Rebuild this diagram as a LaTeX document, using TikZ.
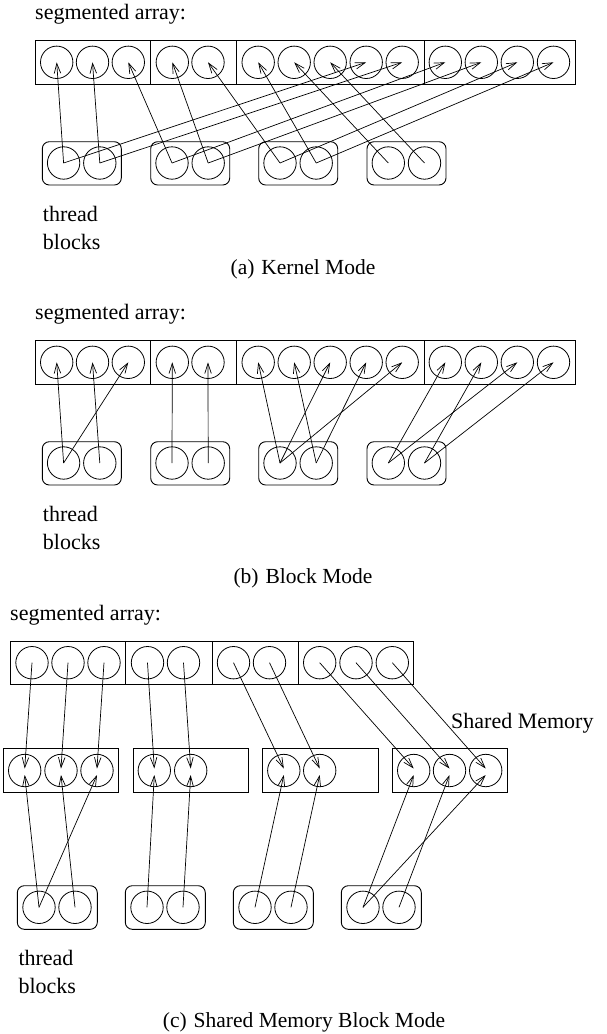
\documentclass[tikz,border=0pt]{standalone}
\usepackage{fontspec}
\setmainfont{Liberation Serif}
\usetikzlibrary{arrows.meta}
\begin{document}
\begin{tikzpicture}[x=1pt,y=-1pt,
  elem/.style={circle,draw,line width=0.8pt,minimum size=32.4pt,inner sep=0pt},
  arr/.style={line width=0.7pt,-{Straight Barb[length=10pt,width=6.5pt]}},
  abox/.style={draw,line width=0.9pt},
  tbox/.style={draw,line width=0.9pt,rounded corners=7pt},
  lbl/.style={font=\fontsize{22}{26}\selectfont,inner sep=0pt,anchor=base west},
  captxt/.style={font=\fontsize{21.5}{26}\selectfont,inner sep=0pt,anchor=base}]
\useasboundingbox (0,0) rectangle (606,1034);

% ---------- parts (a) and (b) ----------
\foreach \off/\p in {0/a,300/b}{
  \draw[abox] (35,40.7+\off) rectangle (575,84+\off);
  \foreach \d in {150.7,236.7,424}
    \draw[abox] (\d,40.7+\off) -- (\d,84+\off);
  \foreach \x [count=\i from 0] in {56.7,92.5,128.3,172.3,208,258.2,294.2,330.2,366.2,402.2,445.3,481.3,517.3,553.5}
    \node[elem] (\p e\i) at (\x,62.3+\off) {};
  \foreach \l in {42.3,150.7,258.7,367}
    \draw[tbox] (\l,141.7+\off) rectangle ++(79,43.3);
  \foreach \x [count=\i from 0] in {63.6,99.8,172,208.2,280,316.2,388.3,424.5}
    \node[elem] (\p t\i) at (\x,163+\off) {};
  \node[lbl] (\p sa) at (35,19.5+\off) {segmented array:};
  \node[lbl] (\p th) at (42.7,221+\off) {thread};
  \node[lbl] (\p bl) at (42.7,249.3+\off) {blocks};
}
\node[captxt] (capa) at (303,274.5) {(a)\hspace{0.32em}Kernel Mode};
\node[captxt] (capb) at (303,583.3) {(b)\hspace{0.32em}Block Mode};

% kernel mode: element i <- thread (i mod 8)
\foreach \i in {0,...,13}{
  \pgfmathtruncatemacro\t{mod(\i,8)}
  \draw[arr] (at\t.center) -- (ae\i.center);
}
% block mode
\foreach \t/\e in {0/0,1/1,0/2,2/3,3/4,4/5,5/6,4/7,5/8,4/9,6/10,7/11,6/12,7/13}
  \draw[arr] (bt\t.center) -- (be\e.center);

% ---------- part (c) ----------
\draw[abox] (10.3,641.3) rectangle (413.7,684);
\foreach \d in {125.7,212.3,298.7}
  \draw[abox] (\d,641.3) -- (\d,684);
\foreach \x [count=\i from 0] in {32,68,104,147.5,183.5,233.5,269.5,319.7,356,392.3}
  \node[elem] (ce\i) at (\x,662.7) {};
\foreach \l/\r in {3.3/118.7,133/248.3,262.7/378,392/507.3}
  \draw[abox] (\l,748.7) rectangle (\r,792.3);
\foreach \x [count=\i from 0] in {24.7,61,97,154.3,190.7,283.8,319.7,413.7,449.5,485.7}
  \node[elem] (cm\i) at (\x,770.5) {};
\foreach \l in {17.3,125.3,233.3,341.3}
  \draw[tbox] (\l,885.7) rectangle ++(80,43.6);
\foreach \x [count=\i from 0] in {39,75,147,183,255,291,363,399}
  \node[elem] (ct\i) at (\x,907.3) {};

\node[lbl] (csa) at (10,620) {segmented array:};
\node[lbl] (csm) at (451,728) {Shared Memory};
\node[lbl] (cth) at (18.3,965) {thread};
\node[lbl] (cbl) at (18.3,993.3) {blocks};
\node[captxt] (capc) at (304,1027.3) {(c)\hspace{0.32em}Shared Memory Block Mode};

\foreach \i in {0,...,9}
  \draw[arr] (ce\i.center) -- ([yshift=2pt]cm\i.center);
\foreach \t/\m in {0/0,1/1,0/2,2/3,3/4,4/5,5/6,6/7,7/8,6/9}
  \draw[arr] (ct\t.center) -- ([yshift=-4.5pt]cm\m.center);
\end{tikzpicture}
\end{document}
